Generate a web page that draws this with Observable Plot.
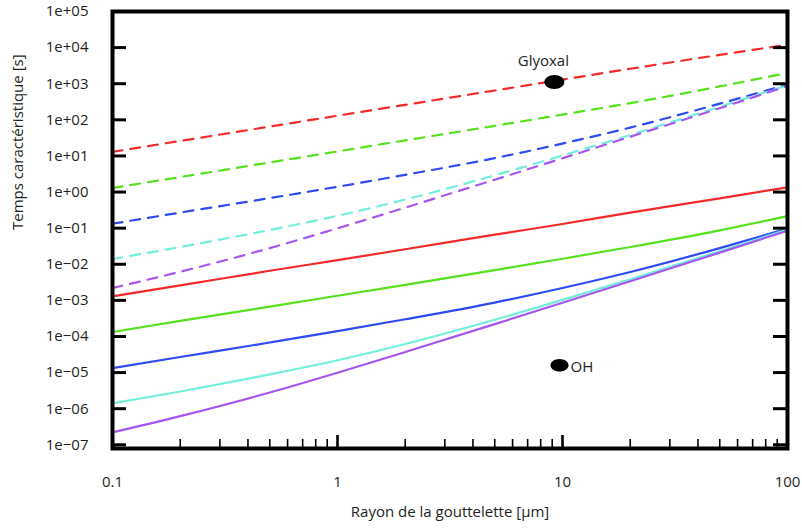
<!DOCTYPE html>
<html><head><meta charset="utf-8">
<script src="https://cdn.jsdelivr.net/npm/d3@7"></script>
<script src="https://cdn.jsdelivr.net/npm/@observablehq/plot@0.6"></script>
<style>html,body{margin:0;padding:0;background:#fff} #chart svg{display:block}</style>
</head><body><div id="chart"></div>
<script>
// ---- data ----
const radius = [0.1, 0.2, 0.5, 1, 2, 5, 10, 20, 50, 100];
const series = ["s1", "s2", "s3", "s4", "s5"];
const seriesColors = ["#f42a2a", "#55e21c", "#2e4bf2", "#72efdc", "#a656ee"];

// OH (solid lines)
const ohRed    = [1.3e-3, 2.6e-3, 6.6e-3, 1.3e-2, 2.6e-2, 6.6e-2, 0.13, 0.27, 0.67, 1.35];
const ohGreen  = [1.33e-4, 2.7e-4, 6.7e-4, 1.34e-3, 2.7e-3, 6.9e-3, 1.42e-2, 3.0e-2, 8.7e-2, 0.215];
const ohBlue   = [1.33e-5, 2.7e-5, 6.8e-5, 1.4e-4, 3.0e-4, 8.7e-4, 2.2e-3, 6.1e-3, 2.8e-2, 9.7e-2];
const ohCyan   = [1.4e-6, 3.0e-6, 8.9e-6, 2.2e-5, 6.2e-5, 2.9e-4, 1.03e-3, 3.85e-3, 2.3e-2, 9.1e-2];
const ohPurple = [2.2e-7, 6.2e-7, 2.8e-6, 9.9e-6, 3.7e-5, 2.2e-4, 8.6e-4, 3.4e-3, 2.1e-2, 8.5e-2];

// Glyoxal (dashed lines)
const glyRed    = [13, 26, 65, 130, 260, 650, 1300, 2600, 6300, 12000];
const glyGreen  = [1.3, 2.6, 6.6, 13.3, 27, 68, 140, 290, 840, 2000];
const glyBlue   = [0.133, 0.27, 0.68, 1.4, 3.0, 8.7, 22, 61, 280, 960];
const glyCyan   = [0.014, 0.030, 0.089, 0.22, 0.62, 2.9, 10.3, 38, 230, 900];
const glyPurple = [0.0022, 0.0062, 0.028, 0.099, 0.37, 2.2, 8.6, 34, 210, 860];

const markerNames = ["Glyoxal", "OH"];
const markerRadius = [9.2, 9.7];
const markerTime = [1120, 1.6e-5];

const yTicks = [1e5, 1e4, 1e3, 1e2, 1e1, 1e0, 1e-1, 1e-2, 1e-3, 1e-4, 1e-5, 1e-6, 1e-7];
const yTickLabels = ["1e+05", "1e+04", "1e+03", "1e+02", "1e+01", "1e+00",
  "1e\u221201", "1e\u221202", "1e\u221203", "1e\u221204", "1e\u221205", "1e\u221206", "1e\u221207"];
const xTicks = [0.1, 1, 10, 100];
const xTickLabels = ["0.1", "1", "10", "100"];
const xMajorInner = [1, 10];
const xMinorTicks = [0.2, 0.3, 0.4, 0.5, 0.6, 0.7, 0.8, 0.9, 2, 3, 4, 5, 6, 7, 8, 9, 20, 30, 40, 50, 60, 70, 80, 90];

const yTitle = "Temps caractéristique [s]";
const xTitle = "Rayon de la gouttelette [µm]";

// ---- layout ----
const W = 802, H = 531, mL = 112, mR = 15, mT = 11, mB = 83;
const frameW = W - mL - mR, frameH = H - mT - mB;

const ohValues = [ohRed, ohGreen, ohBlue, ohCyan, ohPurple];
const glyValues = [glyRed, glyGreen, glyBlue, glyCyan, glyPurple];
const table = (values) => series.flatMap((s, i) => radius.map((r, j) => ({serie: s, r, t: values[i][j]})));
const ohData = table(ohValues);
const glyData = table(glyValues);
const markers = markerNames.map((name, i) => ({name, r: markerRadius[i], t: markerTime[i]}));

function ellipse(rx, ry) {
  const k = 0.5523;
  return {
    draw(ctx) {
      ctx.moveTo(rx, 0);
      ctx.bezierCurveTo(rx, ry * k, rx * k, ry, 0, ry);
      ctx.bezierCurveTo(-rx * k, ry, -rx, ry * k, -rx, 0);
      ctx.bezierCurveTo(-rx, -ry * k, -rx * k, -ry, 0, -ry);
      ctx.bezierCurveTo(rx * k, -ry, rx, -ry * k, rx, 0);
      ctx.closePath();
    }
  };
}

const chart = Plot.plot({
  width: W, height: H,
  marginLeft: mL, marginRight: mR, marginTop: mT, marginBottom: mB,
  style: {fontFamily: "'Open Sans', sans-serif", fontSize: "15px", color: "#231f20", background: "#fff"},
  x: {type: "log", domain: [0.1, 100], axis: null},
  y: {type: "log", domain: [7.9e-8, 1e5], axis: null},
  color: {domain: series, range: seriesColors},
  marks: [
    Plot.line(glyData, {x: "r", y: "t", z: "serie", stroke: "serie", strokeWidth: 2.2, strokeDasharray: "10,8", curve: "monotone-x"}),
    Plot.line(ohData, {x: "r", y: "t", z: "serie", stroke: "serie", strokeWidth: 2.2, curve: "monotone-x"}),
    Plot.dot([markers[0]], {x: "r", y: "t", symbol: ellipse(10, 7), fill: "black", stroke: "none"}),
    Plot.dot([markers[1]], {x: "r", y: "t", symbol: ellipse(9, 6.3), fill: "black", stroke: "none"}),
    Plot.text([markers[0]], {x: "r", y: "t", text: "name", dx: -11, dy: -21, fontSize: 15, fill: "#231f20"}),
    Plot.text([markers[1]], {x: "r", y: "t", text: "name", textAnchor: "start", dx: 11, dy: 2, fontSize: 15, fill: "#231f20"}),
    Plot.tickY(yTicks, {y: d => d, insetRight: frameW - 14, stroke: "black", strokeWidth: 3}),
    Plot.tickY(yTicks, {y: d => d, insetLeft: frameW - 14, stroke: "black", strokeWidth: 3}),
    Plot.tickX(xMinorTicks, {x: d => d, insetTop: frameH - 9, stroke: "black", strokeWidth: 1.6}),
    Plot.tickX(xMajorInner, {x: d => d, insetTop: frameH - 13, stroke: "black", strokeWidth: 2.6}),
    Plot.axisY(yTicks, {tickSize: 0, tickPadding: 24, fontSize: 15, tickFormat: d => yTickLabels[yTicks.indexOf(d)], label: null}),
    Plot.axisX(xTicks, {tickSize: 0, tickPadding: 28, fontSize: 15, tickFormat: d => xTickLabels[xTicks.indexOf(d)], label: null}),
    Plot.text([yTitle], {text: d => d, frameAnchor: "left", rotate: -90, dx: -94, fontSize: 15, fill: "#231f20"}),
    Plot.text([xTitle], {text: d => d, frameAnchor: "bottom", dy: 68, fontSize: 15, fill: "#231f20"}),
    Plot.frame({stroke: "black", strokeWidth: 4})
  ]
});
document.getElementById("chart").append(chart);
</script></body></html>
